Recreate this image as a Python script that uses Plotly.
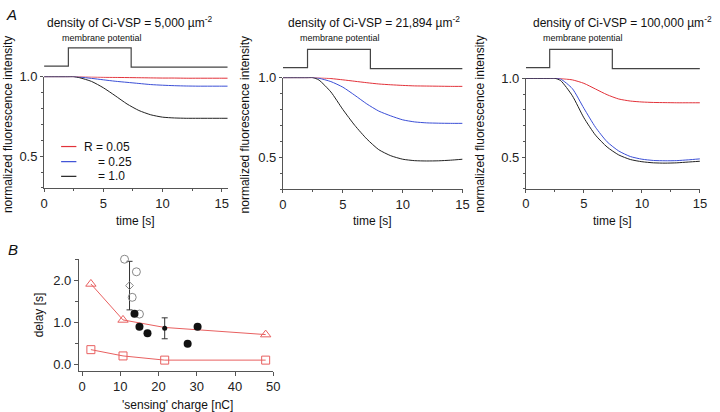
import plotly.graph_objects as go

# ---------------- data ----------------
t = [0, 1, 2, 2.5, 3, 4, 5, 6, 7, 8, 9, 10, 11, 12, 13, 14, 15]
t1 = t + [15.5]

# panel A1 (5,000 um^-2)
red1 = [1, 1, 1, 1, 1.0, 0.998, 0.996, 0.995, 0.994, 0.993, 0.992, 0.991, 0.991, 0.99, 0.99, 0.99, 0.99, 0.99]
blue1 = [1, 1, 1, 1, 0.997, 0.989, 0.98, 0.971, 0.964, 0.957, 0.95, 0.946, 0.943, 0.941, 0.94, 0.94, 0.94, 0.94]
black1 = [1, 1, 1, 1, 0.993, 0.97, 0.93, 0.88, 0.828, 0.787, 0.76, 0.745, 0.74, 0.738, 0.738, 0.738, 0.738, 0.738]

# panel A2 (21,894 um^-2)
red2 = [1, 1, 1, 1, 0.999, 0.994, 0.986, 0.977, 0.968, 0.96, 0.955, 0.951, 0.948, 0.947, 0.946, 0.945, 0.945]
blue2 = [1, 1, 1, 1, 0.996, 0.975, 0.94, 0.889, 0.835, 0.79, 0.76, 0.735, 0.722, 0.716, 0.714, 0.713, 0.713]
black2 = [1, 1, 1, 1, 0.985, 0.91, 0.80, 0.70, 0.615, 0.548, 0.51, 0.488, 0.479, 0.477, 0.478, 0.482, 0.488]

# panel A3 (100,000 um^-2)
red3 = [1, 1, 1, 1, 0.998, 0.99, 0.968, 0.932, 0.896, 0.869, 0.856, 0.85, 0.847, 0.846, 0.845, 0.845, 0.845]
blue3 = [1, 1, 1, 1, 0.995, 0.935, 0.81, 0.69, 0.598, 0.54, 0.505, 0.488, 0.48, 0.478, 0.479, 0.484, 0.49]
black3 = [1, 1, 1, 1, 0.985, 0.89, 0.75, 0.64, 0.565, 0.515, 0.486, 0.472, 0.465, 0.463, 0.465, 0.47, 0.475]

# membrane potential steps (on, off, end) per panel
pulse_times = [(2.05, 7.35, 15.5), (2.05, 7.3, 15.0), (2.05, 7.45, 15.0)]
pulse_levels = [0, 0, 1, 1, -0.05, -0.05]

densities = ["5,000", "21,894", "100,000"]

# panel B
tri_x = [2.3, 10.7, 48]
tri_y = [1.92, 1.06, 0.71]
tri_line_x = [2.3, 10.7, 21.6, 48]
tri_line_y = [1.92, 1.06, 0.88, 0.71]
sq_x = [2.3, 10.7, 21.6, 48]
sq_y = [0.35, 0.20, 0.10, 0.10]
open_x = [11.1, 14.2, 13.1, 15.0]
open_y = [2.51, 2.21, 1.60, 1.20]
open_mean_x = [12.4]
open_mean_y = [1.88]
open_sd = [0.58]
fill_x = [13.7, 15.0, 17.1, 27.6, 30.2]
fill_y = [1.21, 0.90, 0.74, 0.49, 0.90]
fill_mean_x = [21.6]
fill_mean_y = [0.86]
fill_sd = [0.25]

# ---------------- helpers ----------------
W, H = 720, 412
def px(x):
    return x / W
def py(y):
    return 1 - y / H

RED = "#e2323a"
BLUE = "#3b4fd6"
BLACK = "#222222"
PRED = "#e86060"
AX = "#555555"
FONT = "Liberation Sans, Arial, sans-serif"

fig = go.Figure()

curves = [(red1, blue1, black1), (red2, blue2, black2), (red3, blue3, black3)]
tt = [t1, t, t]
for i, (r, b, k) in enumerate(curves):
    xa = "x" if i == 0 else f"x{i+1}"
    ya = "y" if i == 0 else f"y{i+1}"
    for vals, col in ((r, RED), (b, BLUE), (k, BLACK)):
        fig.add_trace(go.Scatter(x=tt[i], y=vals, mode="lines", xaxis=xa, yaxis=ya,
                                 line=dict(color=col, width=1, shape="spline", smoothing=0.6),
                                 hoverinfo="skip"))
    on, off, end = pulse_times[i]
    fig.add_trace(go.Scatter(x=[0, on, on, off, off, end], y=pulse_levels, mode="lines",
                             xaxis=xa, yaxis=f"y{i+5}",
                             line=dict(color="#444444", width=1.2), hoverinfo="skip"))

# panel B traces
fig.add_trace(go.Scatter(x=tri_line_x, y=tri_line_y, mode="lines", xaxis="x4", yaxis="y4",
                         line=dict(color=PRED, width=1)))
fig.add_trace(go.Scatter(x=tri_x, y=tri_y, mode="markers", xaxis="x4", yaxis="y4", cliponaxis=False,
                         marker=dict(symbol="triangle-up-open", size=9, color=PRED, line=dict(width=1))))
fig.add_trace(go.Scatter(x=sq_x, y=sq_y, mode="lines+markers", xaxis="x4", yaxis="y4", cliponaxis=False,
                         line=dict(color=PRED, width=1),
                         marker=dict(symbol="square-open", size=8, color=PRED, line=dict(width=1))))
fig.add_trace(go.Scatter(x=open_mean_x, y=open_mean_y, mode="markers", xaxis="x4", yaxis="y4",
                         cliponaxis=False,
                         error_y=dict(type="data", array=open_sd, color="#333333", thickness=1, width=3),
                         marker=dict(symbol="diamond-open", size=6, color="#888888", line=dict(width=1))))
fig.add_trace(go.Scatter(x=open_x, y=open_y, mode="markers", xaxis="x4", yaxis="y4", cliponaxis=False,
                         marker=dict(symbol="circle-open", size=8, color="#888888", line=dict(width=1))))
fig.add_trace(go.Scatter(x=fill_x, y=fill_y, mode="markers", xaxis="x4", yaxis="y4", cliponaxis=False,
                         marker=dict(symbol="circle", size=8, color="#111111")))
fig.add_trace(go.Scatter(x=fill_mean_x, y=fill_mean_y, mode="markers", xaxis="x4", yaxis="y4",
                         cliponaxis=False,
                         error_y=dict(type="data", array=fill_sd, color="#333333", thickness=1, width=3),
                         marker=dict(symbol="circle", size=5, color="#111111")))

common = dict(showline=True, linecolor=AX, linewidth=1, ticks="outside", ticklen=4,
              tickcolor=AX, showgrid=False, zeroline=False,
              tickfont=dict(size=13, color="#222222", family=FONT))

xdoms = [(40.7, 227.2), (283.3, 465.7), (530.0, 706.7)]
xranges = [[0, 15.5], [0, 15], [0, 15]]
ydoms = [(184.5, 71.0), (185.8, 72.0), (185.5, 72.7)]
pulse_doms = [(66.0, 36.0), (67.5, 37.5), (67.5, 37.5)]

lay = {}
for i in range(3):
    sx = "" if i == 0 else str(i + 1)
    lay[f"xaxis{sx}"] = dict(common, domain=[px(xdoms[i][0]), px(xdoms[i][1])], range=xranges[i],
                             anchor=f"y{sx}", tickvals=[0, 5, 10, 15], ticklen=3,
                             minor=dict(tickvals=[2.5, 7.5, 12.5], ticks="outside", ticklen=2, tickcolor=AX))
    lay[f"yaxis{sx}"] = dict(common, domain=[py(ydoms[i][0]), py(ydoms[i][1])], range=[0.3, 1.0],
                             anchor=f"x{sx}", tickvals=[0.5, 1.0], ticktext=["0.5", "1.0"], ticklen=3,
                             minor=dict(dtick=0.1, tick0=0, ticks="outside", ticklen=2, tickcolor=AX))
    lay[f"yaxis{i+5}"] = dict(domain=[py(pulse_doms[i][0]), py(pulse_doms[i][1])], range=[-0.3, 1.3],
                              anchor=f"x{sx}", visible=False, fixedrange=True)

lay["xaxis4"] = dict(common, domain=[px(76), px(273.5)], range=[-0.85, 50], anchor="y4",
                     tickvals=[0, 10, 20, 30, 40, 50])
lay["yaxis4"] = dict(common, domain=[py(371), py(256.8)], range=[-0.155, 2.52], anchor="x4",
                     tickvals=[0, 1, 2], ticktext=["0.0", "1.0", "2.0"],
                     minor=dict(tickvals=[0.5, 1.5, 2.5], ticks="outside", ticklen=3, tickcolor=AX))

ann = []
def text(x, y, s, size=12, angle=0, italic=False, xanchor="center"):
    ann.append(dict(x=px(x), y=py(y), xref="paper", yref="paper", text=s, showarrow=False,
                    xanchor=xanchor, yanchor="middle", textangle=angle,
                    font=dict(size=size, family=FONT, color="#111111",
                              style="italic" if italic else "normal")))

title_x = [128, 376, 628]
memb_x = [100, 341.7, 588]
time_x = [134, 374.5, 618]
ytitle_x = [3.5, 244.5, 483.5]
for i in range(3):
    text(title_x[i], 15, f"density of Ci-VSP = {densities[i]} µm<sup>-2</sup>", size=12)
    text(memb_x[i], 32, "membrane potential", size=9)
    text(time_x[i], 218, "time [s]", size=12)
    text(ytitle_x[i], 120, "normalized fluorescence intensity", size=12, angle=-90)

text(8, 8, "A", size=15, italic=True)
text(9, 247, "B", size=15, italic=True)
text(35, 314, "delay [s]", size=12, angle=-90)
text(176, 406, "'sensing' charge [nC]", size=12)

# legend of panel A1
shapes = []
leg = [(142.3, RED, "R = 0.05", 79.3), (157.7, BLUE, "= 0.25", 93.3), (172.7, BLACK, "= 1.0", 93.3)]
for yy, col, lab, tx in leg:
    shapes.append(dict(type="line", xref="paper", yref="paper", x0=px(58), x1=px(73.5),
                       y0=py(yy), y1=py(yy), line=dict(color=col, width=1.2)))
    text(tx, yy, lab, size=12, xanchor="left")

fig.update_layout(width=W, height=H, margin=dict(l=0, r=0, t=0, b=0),
                  plot_bgcolor="white", paper_bgcolor="white", showlegend=False,
                  font=dict(family=FONT, size=13, color="#222222"),
                  annotations=ann, shapes=shapes, **lay)

fig.write_html("out.html", config={"displayModeBar": False},
               post_script="document.body.style.margin='0';document.body.style.overflow='hidden';")
